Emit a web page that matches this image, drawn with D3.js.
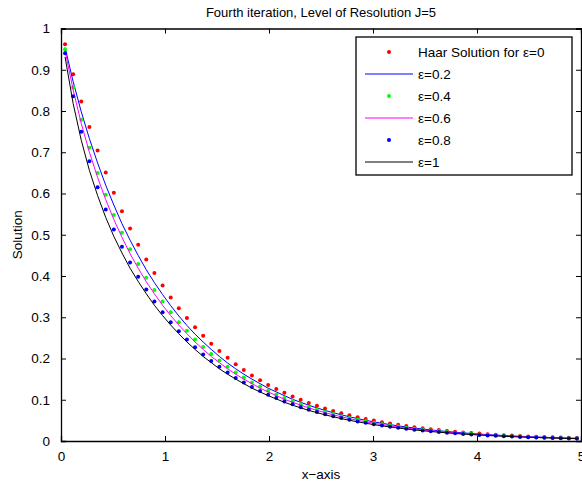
<!DOCTYPE html>
<html lang="en">
<head>
    <meta charset="UTF-8">
    <title>Fourth iteration, Level of Resolution J=5</title>
    <script src="https://d3js.org/d3.v7.min.js"></script>
    <style>
        body { margin: 0; background: #fff; }
        text { font-family: "Liberation Sans", Arial, Helvetica, sans-serif; }
    </style>
</head>
<body>
    <div id="graph"></div>
    <script>
        // collocation points, J=5 (64 points on [0,5])
        const xs = [0.039, 0.117, 0.195, 0.273, 0.352, 0.430, 0.508, 0.586, 0.664, 0.742,
            0.820, 0.898, 0.977, 1.055, 1.133, 1.211, 1.289, 1.367, 1.445, 1.523,
            1.602, 1.680, 1.758, 1.836, 1.914, 1.992, 2.070, 2.148, 2.227, 2.305,
            2.383, 2.461, 2.539, 2.617, 2.695, 2.773, 2.852, 2.930, 3.008, 3.086,
            3.164, 3.242, 3.320, 3.398, 3.477, 3.555, 3.633, 3.711, 3.789, 3.867,
            3.945, 4.023, 4.102, 4.180, 4.258, 4.336, 4.414, 4.492, 4.570, 4.648,
            4.727, 4.805, 4.883, 4.961]

        // eps = 0 (Haar), red dots
        const eps0 = [0.962, 0.889, 0.823, 0.761, 0.704, 0.651, 0.602, 0.557, 0.515, 0.476,
            0.440, 0.407, 0.377, 0.348, 0.322, 0.298, 0.276, 0.255, 0.236, 0.218,
            0.202, 0.186, 0.172, 0.159, 0.147, 0.136, 0.126, 0.117, 0.108, 0.0998,
            0.0923, 0.0854, 0.0789, 0.0730, 0.0675, 0.0624, 0.0578, 0.0534, 0.0494, 0.0457,
            0.0423, 0.0391, 0.0361, 0.0334, 0.0309, 0.0286, 0.0264, 0.0245, 0.0226, 0.0209,
            0.0193, 0.0179, 0.0165, 0.0153, 0.0142, 0.0131, 0.0121, 0.0112, 0.0104, 0.0096,
            0.0089, 0.0082, 0.0076, 0.0070]

        // eps = 0.2, blue line
        const eps02 = [0.954, 0.871, 0.798, 0.733, 0.674, 0.620, 0.572, 0.527, 0.487, 0.450,
            0.415, 0.384, 0.355, 0.328, 0.303, 0.280, 0.259, 0.240, 0.222, 0.205,
            0.189, 0.175, 0.162, 0.150, 0.139, 0.128, 0.119, 0.110, 0.101, 0.0938,
            0.0867, 0.0802, 0.0742, 0.0686, 0.0635, 0.0587, 0.0543, 0.0502, 0.0464, 0.0429,
            0.0397, 0.0367, 0.0340, 0.0314, 0.0291, 0.0269, 0.0249, 0.0230, 0.0213, 0.0197,
            0.0182, 0.0168, 0.0155, 0.0144, 0.0133, 0.0123, 0.0114, 0.0105, 0.0097, 0.0090,
            0.0083, 0.0077, 0.0071, 0.0066]

        // eps = 0.4, green dots
        const eps04 = [0.949, 0.857, 0.779, 0.711, 0.650, 0.597, 0.548, 0.505, 0.465, 0.429,
            0.396, 0.366, 0.338, 0.312, 0.288, 0.267, 0.246, 0.228, 0.211, 0.195,
            0.180, 0.166, 0.154, 0.142, 0.132, 0.122, 0.113, 0.104, 0.0963, 0.0891,
            0.0824, 0.0762, 0.0705, 0.0652, 0.0603, 0.0558, 0.0516, 0.0477, 0.0441, 0.0408,
            0.0377, 0.0349, 0.0323, 0.0298, 0.0276, 0.0255, 0.0236, 0.0218, 0.0202, 0.0187,
            0.0173, 0.0160, 0.0148, 0.0137, 0.0126, 0.0117, 0.0108, 0.0100, 0.0092, 0.0085,
            0.0079, 0.0073, 0.0068, 0.0063]

        // eps = 0.6, magenta line
        const eps06 = [0.946, 0.851, 0.770, 0.700, 0.639, 0.585, 0.537, 0.494, 0.454, 0.419,
            0.386, 0.357, 0.329, 0.304, 0.281, 0.260, 0.240, 0.222, 0.205, 0.190,
            0.175, 0.162, 0.150, 0.139, 0.128, 0.119, 0.110, 0.101, 0.0939, 0.0868,
            0.0803, 0.0743, 0.0687, 0.0635, 0.0587, 0.0543, 0.0502, 0.0465, 0.0430, 0.0397,
            0.0368, 0.0340, 0.0314, 0.0291, 0.0269, 0.0249, 0.0230, 0.0213, 0.0197, 0.0182,
            0.0168, 0.0156, 0.0144, 0.0133, 0.0123, 0.0114, 0.0105, 0.0097, 0.0090, 0.0083,
            0.0077, 0.0071, 0.0066, 0.0061]

        // eps = 0.8, blue dots
        const eps08 = [0.940, 0.836, 0.750, 0.678, 0.615, 0.561, 0.513, 0.471, 0.433, 0.398,
            0.367, 0.338, 0.312, 0.288, 0.266, 0.246, 0.227, 0.210, 0.194, 0.180,
            0.166, 0.153, 0.142, 0.131, 0.121, 0.112, 0.104, 0.0960, 0.0888, 0.0821,
            0.0759, 0.0702, 0.0650, 0.0601, 0.0556, 0.0514, 0.0475, 0.0440, 0.0406, 0.0376,
            0.0348, 0.0322, 0.0297, 0.0275, 0.0254, 0.0235, 0.0218, 0.0201, 0.0186, 0.0172,
            0.0159, 0.0147, 0.0136, 0.0126, 0.0116, 0.0108, 0.0100, 0.0092, 0.0085, 0.0079,
            0.0073, 0.0067, 0.0062, 0.0058]

        // eps = 1, black line
        const eps1 = [0.931, 0.818, 0.729, 0.656, 0.595, 0.542, 0.496, 0.456, 0.419, 0.387,
            0.357, 0.329, 0.304, 0.281, 0.260, 0.240, 0.222, 0.205, 0.190, 0.175,
            0.162, 0.150, 0.139, 0.128, 0.119, 0.110, 0.102, 0.0939, 0.0869, 0.0803,
            0.0743, 0.0687, 0.0635, 0.0588, 0.0543, 0.0503, 0.0465, 0.0430, 0.0398, 0.0368,
            0.0340, 0.0315, 0.0291, 0.0269, 0.0249, 0.0230, 0.0213, 0.0197, 0.0182, 0.0168,
            0.0156, 0.0144, 0.0133, 0.0123, 0.0114, 0.0105, 0.0097, 0.0090, 0.0083, 0.0077,
            0.0071, 0.0066, 0.0061, 0.0056]

        const xTicks = [0, 1, 2, 3, 4, 5]
        const yTicks = [0, 0.1, 0.2, 0.3, 0.4, 0.5, 0.6, 0.7, 0.8, 0.9, 1]

        const series = [
            {name: "Haar Solution for \u03b5=0", values: eps0, type: "dot", color: "#ff0000"},
            {name: "\u03b5=0.2", values: eps02, type: "line", color: "#0000ff"},
            {name: "\u03b5=0.4", values: eps04, type: "dot", color: "#00ff00"},
            {name: "\u03b5=0.6", values: eps06, type: "line", color: "#ff00ff"},
            {name: "\u03b5=0.8", values: eps08, type: "dot", color: "#0000ff"},
            {name: "\u03b5=1", values: eps1, type: "line", color: "#000000"}
        ]

        var width = 582, height = 486
        const margin = {left: 61, right: 1, top: 28.5, bottom: 45}
        const w = width - margin.left - margin.right
        const h = height - margin.top - margin.bottom

        var svg = d3.select("#graph")
            .append("svg")
                .attr("width", width)
                .attr("height", height)
                .style("display", "block")

        svg.append("rect")
            .attr("width", width)
            .attr("height", height)
            .attr("fill", "#fff")

        var g = svg.append("g")
            .attr("transform", "translate(" + margin.left + "," + margin.top + ")")

        var x = d3.scaleLinear().domain([0, 5]).range([0, w])
        var y = d3.scaleLinear().domain([0, 1]).range([h, 0])

        // data
        series.forEach(function (s) {
            var pts = xs.map((d, i) => [d, s.values[i]])
            if (s.type === "line") {
                g.append("path")
                    .datum(pts)
                    .attr("fill", "none")
                    .attr("stroke", s.color)
                    .attr("stroke-width", 1)
                    .attr("d", d3.line().x(d => x(d[0])).y(d => y(d[1])))
            } else {
                g.append("g")
                    .selectAll("circle")
                    .data(pts)
                    .enter()
                    .append("circle")
                    .attr("cx", d => x(d[0]))
                    .attr("cy", d => y(d[1]))
                    .attr("r", 2)
                    .attr("fill", s.color)
            }
        })

        // axes (matlab box with inward ticks)
        var tick = 5
        g.append("g")
            .attr("transform", "translate(0," + h + ")")
            .call(d3.axisBottom(x).tickValues(xTicks).tickSize(-tick).tickPadding(10).tickFormat(d3.format("d")))
        g.append("g")
            .call(d3.axisTop(x).tickValues(xTicks).tickSize(-tick).tickFormat(""))
        g.append("g")
            .call(d3.axisLeft(y).tickValues(yTicks).tickSize(-tick).tickPadding(11).tickFormat(d => d3.format("")(+d.toFixed(1))))
        g.append("g")
            .attr("transform", "translate(" + w + ",0)")
            .call(d3.axisRight(y).tickValues(yTicks).tickSize(-tick).tickFormat(""))

        g.selectAll(".domain").attr("stroke", "#000").attr("stroke-width", 1.3)
        g.selectAll(".tick line").attr("stroke", "#000")
        g.selectAll(".tick text")
            .attr("fill", "#000")
            .style("font-size", "13.5px")
            .style("font-family", "'Liberation Sans', Arial, sans-serif")

        // title and axis labels
        svg.append("text")
            .attr("x", margin.left + w / 2)
            .attr("y", 17)
            .attr("text-anchor", "middle")
            .style("font-size", "13px")
            .text("Fourth iteration, Level of Resolution J=5")

        svg.append("text")
            .attr("x", margin.left + w / 2)
            .attr("y", 479)
            .attr("text-anchor", "middle")
            .style("font-size", "13.5px")
            .text("x\u2212axis")

        svg.append("text")
            .attr("transform", "translate(22," + (margin.top + h / 2) + ") rotate(-90)")
            .attr("text-anchor", "middle")
            .style("font-size", "13.5px")
            .text("Solution")

        // legend
        var legend = svg.append("g").attr("transform", "translate(356,37)")
        legend.append("rect")
            .attr("width", 216)
            .attr("height", 138)
            .attr("fill", "#fff")
            .attr("stroke", "#000")
            .attr("stroke-width", 1.3)

        series.forEach(function (s, i) {
            var ly = 15 + i * 22
            if (s.type === "line") {
                legend.append("line")
                    .attr("x1", 9).attr("x2", 57)
                    .attr("y1", ly).attr("y2", ly)
                    .attr("stroke", s.color)
                    .attr("stroke-width", 1)
            } else {
                legend.append("circle")
                    .attr("cx", 33).attr("cy", ly)
                    .attr("r", 2)
                    .attr("fill", s.color)
            }
            legend.append("text")
                .attr("x", 62)
                .attr("y", ly + 5)
                .style("font-size", "13.5px")
                .text(s.name)
        })
    </script>
</body>
</html>
